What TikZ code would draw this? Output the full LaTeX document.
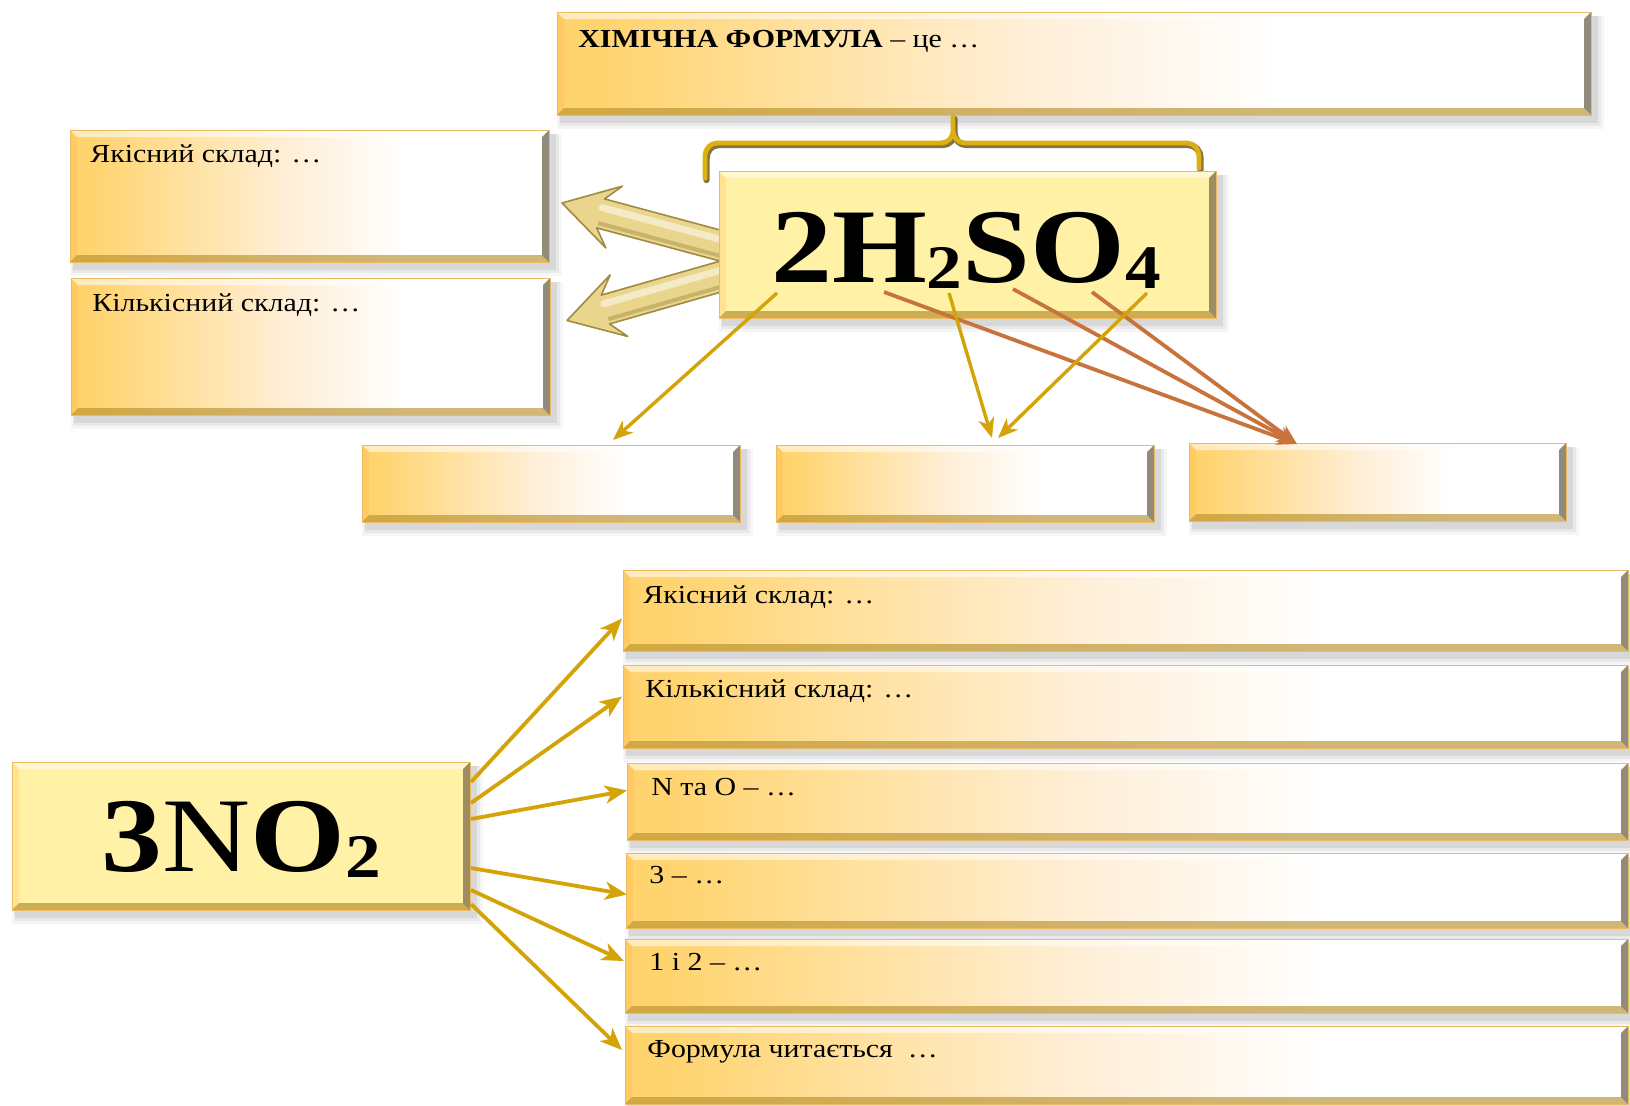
\documentclass[tikz,border=0pt]{standalone}
\usepackage{fontspec}
\setmainfont{Liberation Serif}[FakeStretch=1.15]
\usetikzlibrary{calc,arrows.meta}

\definecolor{goldL}{HTML}{FFD36E}
\definecolor{goldA}{HTML}{FFE1A0}
\definecolor{goldM}{HTML}{FFEFD8}
\definecolor{solidY}{HTML}{FFF2A6}
\definecolor{arrGold}{HTML}{D4A307}
\definecolor{arrOrange}{HTML}{C9733C}
\definecolor{edgeDark}{HTML}{6E6350}
\definecolor{edgeGold}{HTML}{B8912E}
\definecolor{fatFill}{HTML}{EAD58C}
\definecolor{fatEdge}{HTML}{A08A45}
\definecolor{braceGold}{HTML}{DDB012}
\definecolor{braceDark}{HTML}{6B5210}

\pgfdeclarehorizontalshading{goldfade}{100bp}{color(0bp)=(goldL); color(27bp)=(goldL); color(37bp)=(goldA); color(48bp)=(goldM); color(60bp)=(white); color(100bp)=(white)}

\pgfdeclarelayer{paper}
\pgfdeclarelayer{back}
\pgfsetlayers{paper,back,main}

% bevelled box: name, x1, y1, x2, y2, look
\newcommand\bevbox[6]{%
  \foreach \s/\o in {8/0.035,5/0.05,2/0.07}{%
    \fill[black,fill opacity=\o] (#2+4-\s/2,#3+4) rectangle (#4+5+\s,#5+6+\s);
  }%
  \node[#6,inner sep=0pt,outer sep=0pt,minimum width={(#4-#2)*0.5pt},minimum height={(#5-#3)*0.5pt},anchor=north west] (#1) at (#2,#3) {};
  \fill[#6-top] (#2,#3) -- (#4,#3) -- (#4-7,#3+7) -- (#2+7,#3+7) -- cycle;
  \fill[#6-left] (#2,#3) -- (#2+7,#3+7) -- (#2+7,#5-7) -- (#2,#5) -- cycle;
  \fill[#6-bottom] (#2,#5) -- (#4,#5) -- (#4-7,#5-7) -- (#2+7,#5-7) -- cycle;
  \fill[#6-right] (#4,#3) -- (#4,#5) -- (#4-7,#5-7) -- (#4-7,#3+7) -- cycle;
  \draw[#6-rim] (#2,#3) rectangle (#4,#5);
}

% wide 3D arrow from #1 to #2
\newcommand\fatarrow[2]{%
  \coordinate (fa-n) at ($(#2)!20pt!(#1)$);
  \coordinate (fa-b) at ($(#2)!27pt!(#1)$);
  \fill[black,fill opacity=0.12,shift={(3,5)}]
    ($(#1)!7.5pt!90:(#2)$) -- ($(fa-n)!7.5pt!90:(#2)$) -- ($(fa-b)!16pt!90:(#2)$) -- (#2)
    -- ($(fa-b)!16pt!-90:(#2)$) -- ($(fa-n)!7.5pt!-90:(#2)$) -- ($(#1)!7.5pt!-90:(#2)$) -- cycle;
  \filldraw[fatarr]
    ($(#1)!7.5pt!90:(#2)$) -- ($(fa-n)!7.5pt!90:(#2)$) -- ($(fa-b)!16pt!90:(#2)$) -- (#2)
    -- ($(fa-b)!16pt!-90:(#2)$) -- ($(fa-n)!7.5pt!-90:(#2)$) -- ($(#1)!7.5pt!-90:(#2)$) -- cycle;
  \draw[white,line width=3.5pt,draw opacity=0.5,line cap=round]
    ($(#1)!3pt!-90:(#2)$) -- ($(fa-n)!3pt!-90:(#2)$);
  \draw[fatEdge,line width=2pt,draw opacity=0.45]
    ($(#1)!5pt!90:(#2)$) -- ($(fa-n)!5pt!90:(#2)$);
}

\tikzset{
  gfade/.style={shade,shading=goldfade},
  gfade-top/.style={fill=white,fill opacity=0.55},
  gfade-left/.style={fill=goldL!80!orange,fill opacity=0.5},
  gfade-bottom/.style={fill=edgeGold,fill opacity=0.65},
  gfade-right/.style={fill=edgeDark,fill opacity=0.75},
  gfade-rim/.style={draw=goldL!70!brown,line width=0.5pt},
  solid/.style={fill=solidY},
  solid-top/.style={fill=white,fill opacity=0.5},
  solid-left/.style={fill=solidY!75!orange,fill opacity=0.5},
  solid-bottom/.style={fill=edgeGold,fill opacity=0.7},
  solid-right/.style={fill=edgeDark!80!edgeGold,fill opacity=0.75},
  solid-rim/.style={draw=goldL!70!brown,line width=0.5pt},
  lbl/.style={anchor=base west,inner sep=0pt,font=\fontsize{13}{15}\selectfont},
  big/.style={anchor=base,inner sep=0pt,font=\fontsize{53}{60}\selectfont\bfseries},
  garr/.style={draw=arrGold,line width=1.7pt,-{Stealth[length=10pt,width=8pt,inset=3pt]}},
  oarr/.style={draw=arrOrange,line width=1.9pt,-{Stealth[length=10pt,width=8pt,inset=3pt]}},
  narr/.style={draw=arrGold,line width=1.9pt,-{Stealth[length=11pt,width=9pt,inset=3pt]}},
  fatarr/.style={fill=fatFill,draw=fatEdge,line width=0.8pt,line join=round},
  brace/.style={draw=braceGold,line width=2.4pt,line cap=round,line join=round},
  braceshadow/.style={draw=braceDark,line width=3.2pt,line cap=round,line join=round,draw opacity=0.8},
}

\newcommand\subnum[1]{\raisebox{-3pt}{\fontsize{31}{31}\selectfont #1}}

\begin{document}
\begin{tikzpicture}[x=0.5pt,y=-0.5pt]
\useasboundingbox (0,0) rectangle (1630,1105);
\begin{pgfonlayer}{paper}
\fill[white] (0,0) rectangle (1630,1105);
\end{pgfonlayer}

% upper block
\bevbox{def}{557}{12}{1591}{115}{gfade}
\bevbox{L1}{70}{130}{549}{262}{gfade}
\bevbox{L2}{71}{278}{550}{415}{gfade}
\bevbox{b1}{362}{445}{740}{522}{gfade}
\bevbox{b2}{776}{445}{1154}{522}{gfade}
\bevbox{b3}{1189}{443}{1566}{521}{gfade}

% bracket under the definition box
\draw[braceshadow,shift={(1.5,2)}] (705,178) -- (705,156) to[out=90,in=180] (717,143) -- (941,143) to[out=0,in=-90] (953,131) -- (953,117)
  (1199,168) -- (1199,156) to[out=90,in=0] (1187,143) -- (965,143) to[out=180,in=-90] (953,131);
\draw[brace] (705,178) -- (705,156) to[out=90,in=180] (717,143) -- (941,143) to[out=0,in=-90] (953,131) -- (953,117)
  (1199,168) -- (1199,156) to[out=90,in=0] (1187,143) -- (965,143) to[out=180,in=-90] (953,131);

\bevbox{h2so4}{719}{171}{1216}{318}{solid}

\node[lbl] (tdef) at ($(def.north west)+(21,35)$) {\textbf{ХІМІЧНА ФОРМУЛА} – це …};
\node[lbl] (tL1) at ($(L1.north west)+(20,32)$) {Якісний склад: …};
\node[lbl] (tL2) at ($(L2.north west)+(21,33)$) {Кількісний склад: …};
\node[big] (fh) at (966,282) {2H\subnum{2}SO\subnum{4}};

% wide arrows to the two left boxes
\coordinate (fs1) at ($(h2so4.north west)+(14,78)$);
\coordinate (fs2) at ($(h2so4.north west)+(14,102)$);
\coordinate (ft1) at ($(L1.east)+(13,7)$);
\coordinate (ft2) at ($(L2.east)+(17,-26)$);
\begin{pgfonlayer}{back}
\fatarrow{fs1}{ft1}
\fatarrow{fs2}{ft2}
\end{pgfonlayer}

% arrows from the symbols to the lower row
\coordinate (hs1) at ($(h2so4.south west)+(58,-25)$);
\coordinate (hs2) at ($(h2so4.south west)+(230,-25)$);
\coordinate (hs3) at ($(h2so4.south west)+(428,-25)$);
\coordinate (ho1) at ($(h2so4.south west)+(165,-26)$);
\coordinate (ho2) at ($(h2so4.south west)+(294,-29)$);
\coordinate (ho3) at ($(h2so4.south west)+(373,-26)$);
\coordinate (tb1) at ($(b1.north west)+(251,-5)$);
\coordinate (tb2a) at ($(b2.north west)+(216,-7)$);
\coordinate (tb2b) at ($(b2.north west)+(222,-7)$);
\coordinate (tb3) at ($(b3.north west)+(108,1)$);
\draw[oarr] (ho1) -- (tb3);
\draw[oarr] (ho2) -- (tb3);
\draw[oarr] (ho3) -- (tb3);
\draw[garr] (hs1) -- (tb1);
\draw[garr] (hs2) -- (tb2a);
\draw[garr] (hs3) -- (tb2b);

% lower block
\bevbox{no2}{12}{762}{470}{910}{solid}
\bevbox{r1}{623}{570}{1628}{651}{gfade}
\bevbox{r2}{623}{665}{1628}{748}{gfade}
\bevbox{r3}{627}{763}{1628}{840}{gfade}
\bevbox{r4}{626}{853}{1628}{928}{gfade}
\bevbox{r5}{625}{939}{1628}{1013}{gfade}
\bevbox{r6}{625}{1026}{1628}{1104}{gfade}

\node[big] (fn) at (241,871) {3{\mdseries N}O\subnum{2}};
\node[lbl] (tr1) at ($(r1.north west)+(20,33)$) {Якісний склад: …};
\node[lbl] (tr2) at ($(r2.north west)+(22,32)$) {Кількісний склад: …};
\node[lbl] (tr3) at ($(r3.north west)+(24,32)$) {N та O – …};
\node[lbl] (tr4) at ($(r4.north west)+(23,30)$) {3 – …};
\node[lbl] (tr5) at ($(r5.north west)+(24,31)$) {1 і 2 – …};
\node[lbl] (tr6) at ($(r6.north west)+(22,31)$) {Формула читається~ …};

\draw[narr] ($(no2.north east)+(1,20)$) -- ($(r1.west)+(-1,8)$);
\draw[narr] ($(no2.north east)+(1,41)$) -- ($(r2.west)+(-1,-10)$);
\draw[narr] ($(no2.north east)+(1,57)$) -- ($(r3.west)+(0,-11)$);
\draw[narr] ($(no2.north east)+(1,106)$) -- ($(r4.west)+(1,4)$);
\draw[narr] ($(no2.north east)+(1,128)$) -- ($(r5.west)+(-1,-15)$);
\draw[narr] ($(no2.north east)+(1,142)$) -- ($(r6.west)+(-3,-15)$);
\end{tikzpicture}
\end{document}
